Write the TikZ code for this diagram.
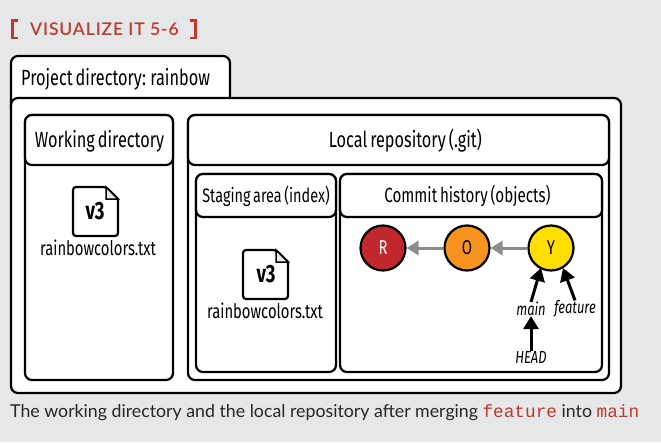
\documentclass[tikz,border=0pt]{standalone}
\usepackage{xcolor}
\usepackage{fontspec}
\setmainfont{Lato}
\setmonofont{Liberation Mono}
\newfontfamily\narrowfont[FakeStretch=0.74,WordSpace=0.7]{Fira Sans}
\newfontfamily\titlefont[LetterSpace=5]{Lato Semibold}
\usetikzlibrary{arrows.meta,positioning,calc}
\definecolor{pagegray}{HTML}{E6E7E9}
\definecolor{titlered}{HTML}{C0392B}
\definecolor{commitred}{HTML}{C1272D}
\definecolor{commitorange}{HTML}{F7931E}
\definecolor{commityellow}{HTML}{FFDE00}

\begin{document}
\begin{tikzpicture}[x=1pt, y=-1pt,
    box/.style={rectangle, draw=black, line width=2.2pt, rounded corners=7pt, fill=white, inner sep=0pt},
    label/.style={font=\narrowfont\fontsize{22}{24}\selectfont, inner sep=0pt},
    smalllabel/.style={font=\narrowfont\fontsize{20}{22}\selectfont, inner sep=0pt},
    ref/.style={font=\narrowfont\itshape\fontsize{17.5}{19}\selectfont, inner sep=0pt},
    commit/.style={circle, draw=black, line width=2.2pt, minimum size=45pt, inner sep=0pt, font=\narrowfont\fontsize{20}{22}\selectfont},
    parent/.style={-{Triangle[length=12pt,width=14pt]}, draw=gray!90, line width=3pt},
    pointer/.style={-{Triangle[length=13pt,width=15pt]}, draw=black, line width=3pt},
    file/.style={draw=black, line width=2.2pt, fill=white, rounded corners=3pt},
    bracket/.style={draw=titlered, line width=2.6pt}]

\useasboundingbox (0,0) rectangle (661,442);
\fill[pagegray] (0,0) rectangle (661,442);

% Title
\draw[bracket] (18,20.5) -- (12.5,20.5) -- (12.5,38) -- (18,38);
\draw[bracket] (190,20.5) -- (195.5,20.5) -- (195.5,38) -- (190,38);
\node[anchor=west, inner sep=0pt, text=titlered, font=\titlefont\fontsize{17.5}{19}\selectfont] (title) at (30,29) {VISUALIZE IT 5-6};

% Project directory
\node[box, minimum width=219pt, minimum height=60pt] (project_tab) at (120.5,86) {};
\node[label, anchor=west] (project_label) at (21,79) {Project directory: rainbow};
\node[box, minimum width=610pt, minimum height=295pt] (project) at (316,245.5) {};

% Working directory
\node[box, minimum width=148pt, minimum height=265pt] (working) at (99,247.5) {};
\node[box, minimum width=148pt, minimum height=50pt] (working_title) at (99,140) {};
\node[label] (working_label) at (99.5,141) {Working directory};

% Local repository
\node[box, minimum width=421pt, minimum height=265pt] (local) at (398.5,247.5) {};
\node[box, minimum width=421pt, minimum height=50pt] (local_title) at (398.5,140) {};
\node[label] (local_label) at (405.5,141) {Local repository (.git)};

% Staging area
\node[box, minimum width=140pt, minimum height=198pt] (staging) at (266,273) {};
\node[box, minimum width=140pt, minimum height=43pt] (staging_title) at (266,195.5) {};
\node[smalllabel, font=\narrowfont\fontsize{19.5}{22}\selectfont] (staging_label) at (266,196) {Staging area (index)};

% Commit history
\node[box, minimum width=262pt, minimum height=198pt] (history) at (471,273) {};
\node[box, minimum width=262pt, minimum height=43pt] (history_title) at (471,195.5) {};
\node[smalllabel, font=\narrowfont\fontsize{20.5}{22}\selectfont] (history_label) at (467.5,196) {Commit history (objects)};

% Files
\draw[file] (73,187) -- (106,187) [sharp corners] -- (118,199) [rounded corners=3pt] -- (118,236) -- (73,236) -- cycle;
\draw[draw=black, line width=1.5pt, fill=pagegray] (106,187) -- (106,199) -- (118,199) -- cycle;
\node[inner sep=0pt, font=\narrowfont\bfseries\fontsize{25}{26}\selectfont] (file_one) at (95,211) {v3};
\node[smalllabel] (file_one_label) at (98,248) {rainbowcolors.txt};

\draw[file] (243,250) -- (276,250) [sharp corners] -- (288,262) [rounded corners=3pt] -- (288,299) -- (243,299) -- cycle;
\draw[draw=black, line width=1.5pt, fill=pagegray] (276,250) -- (276,262) -- (288,262) -- cycle;
\node[inner sep=0pt, font=\narrowfont\bfseries\fontsize{25}{26}\selectfont] (file_two) at (266,274) {v3};
\node[smalllabel] (file_two_label) at (265,311) {rainbowcolors.txt};

% Commits
\node[commit, fill=commitred, text=white] (r) at (383,248) {R};
\node[commit, fill=commitorange] (o) at (467,248) {O};
\node[commit, fill=commityellow] (y) at (551,248) {Y};
\draw[parent] (o) -- (r);
\draw[parent] (y) -- (o);

% Branches
\node[ref] (main) at (531,309) {main};
\node[ref] (feature) at (575,309) {feature};
\node[ref] (head) at (531,357) {HEAD};
\coordinate (y_main) at (541,268);
\coordinate (y_feature) at (563,268);
\draw[pointer] (main.north) -- (y_main);
\draw[pointer] (feature.north) -- (y_feature);
\draw[pointer] (head.north) -- (main.south);

% Caption
\node[anchor=west, inner sep=0pt, text=black!85, font=\fontsize{17.75}{19}\selectfont] (caption) at (10,413)
    {The working directory and the local repository after merging {\ttfamily\color{titlered}feature} into {\ttfamily\color{titlered}main}};

\end{tikzpicture}
\end{document}
